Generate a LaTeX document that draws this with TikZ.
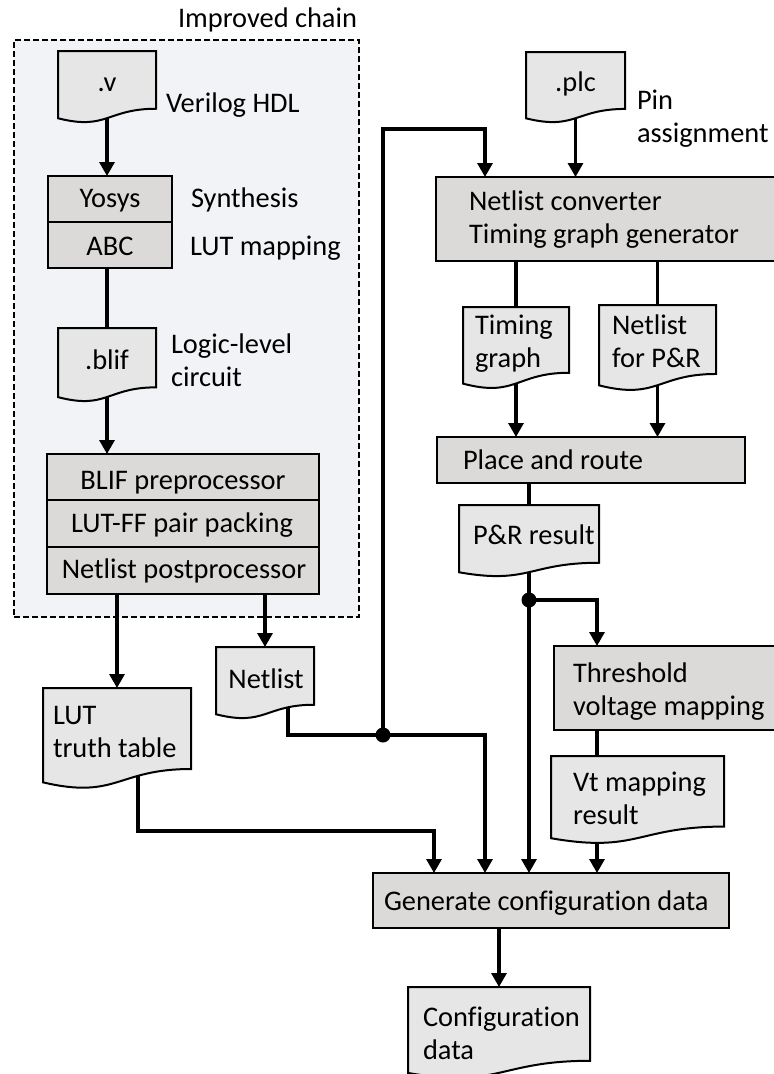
\documentclass[tikz,border=0pt]{standalone}
\usepackage{fontspec}
\setmainfont{Carlito}[Ligatures=NoCommon]
\usetikzlibrary{arrows.meta,calc}

\pgfdeclarelayer{frame}
\pgfdeclarelayer{background}
\pgfsetlayers{frame,background,main}

\definecolor{boxgray}{RGB}{219,218,217}
\definecolor{docgray}{RGB}{230,230,230}
\definecolor{chainbg}{RGB}{242,243,246}

% Flowchart "document" symbol: flat top, wavy bottom edge
\makeatletter
\pgfdeclareshape{document}{%
  \inheritsavedanchors[from=rectangle]%
  \inheritanchorborder[from=rectangle]%
  \inheritanchor[from=rectangle]{center}%
  \inheritanchor[from=rectangle]{north}%
  \inheritanchor[from=rectangle]{south}%
  \inheritanchor[from=rectangle]{east}%
  \inheritanchor[from=rectangle]{west}%
  \inheritanchor[from=rectangle]{north east}%
  \inheritanchor[from=rectangle]{north west}%
  \inheritanchor[from=rectangle]{south east}%
  \inheritanchor[from=rectangle]{south west}%
  \backgroundpath{%
    \southwest \edef\docxa{\the\pgf@x}\edef\docya{\the\pgf@y}%
    \northeast \edef\docxb{\the\pgf@x}\edef\docyb{\the\pgf@y}%
    \pgfmathsetmacro\doch{\docyb-\docya}%
    \pgfmathsetmacro\docxm{(\docxa+\docxb)/2}%
    \pgfmathsetmacro\docyr{\docyb-0.802*\doch}%
    \pgfmathsetmacro\docyc{\docyb-1.107*\doch}%
    \pgfmathsetmacro\docyl{\docyb-0.934*\doch}%
    \pgfpathmoveto{\pgfpoint{\docxa}{\docyb}}%
    \pgfpathlineto{\pgfpoint{\docxb}{\docyb}}%
    \pgfpathlineto{\pgfpoint{\docxb}{\docyr pt}}%
    \pgfpathcurveto{\pgfpoint{\docxm pt}{\docyr pt}}%
                   {\pgfpoint{\docxm pt}{\docyc pt}}%
                   {\pgfpoint{\docxa}{\docyl pt}}%
    \pgfpathclose
  }%
}
\makeatother

\tikzset{
  procbox/.style={draw=black, line width=2pt, fill=boxgray, inner sep=0pt, outer sep=0pt},
  docbox/.style={shape=document, draw=black, line width=2pt, fill=docgray, inner sep=0pt, outer sep=0pt},
  txt/.style={inner sep=0pt, outer sep=0pt, font=\fontsize{28.4}{33}\selectfont, align=left},
  wire/.style={line width=3.2pt},
  flow/.style={wire, -{Triangle[width=15pt,length=14pt]}},
  junction/.style={circle, fill=black, minimum size=15pt, inner sep=0pt},
  chainframe/.style={draw=black, line width=2pt, dash pattern=on 6pt off 3pt, fill=chainbg, inner sep=0pt, outer sep=0pt}
}

\begin{document}
\begin{tikzpicture}[x=1pt,y=-1pt]
\useasboundingbox (0,0) rectangle (774,1074);

% improved tool chain frame
\begin{pgfonlayer}{frame}
  \fill[white] (0,0) rectangle (774,1074);
  \node[chainframe, minimum width=345, minimum height=577] (chain) at (186.5,328.5) {};
\end{pgfonlayer}
\node[txt, anchor=base west] (chain-t) at (178,27) {Improved chain};

% left column: synthesis and packing
% (two-line labels are anchored at the baseline of their last line)
\node[docbox, minimum width=98, minimum height=72] (vfile) at (107,87) {};
\node[txt, anchor=base] (vfile-t) at (107,91) {.v};
\node[txt, anchor=base west] (verilog) at (166,112) {Verilog HDL};

\node[procbox, minimum width=124, minimum height=46] (yosys) at (110,199) {};
\node[procbox, minimum width=124, minimum height=46] (abc) at (110,245) {};
\node[txt, anchor=base] (yosys-t) at (110,207) {Yosys};
\node[txt, anchor=base] (abc-t) at (110,255) {ABC};
\node[txt, anchor=base west] (synth) at (191,207) {Synthesis};
\node[txt, anchor=base west] (lutmap) at (190,255) {LUT mapping};

\node[docbox, minimum width=98, minimum height=74] (blif) at (107,365) {};
\node[txt, anchor=base] (blif-t) at (107,369) {.blif};
\node[txt, anchor=base west] (logic) at (171,386) {Logic-level\\circuit};

\node[procbox, minimum width=272, minimum height=46] (blifpre) at (183,477) {};
\node[procbox, minimum width=272, minimum height=47] (lutff) at (183,523.5) {};
\node[procbox, minimum width=272, minimum height=47] (postproc) at (183,570.5) {};
\node[txt, anchor=base] (blifpre-t) at (183,489) {BLIF preprocessor};
\node[txt, anchor=base] (lutff-t) at (182,532) {LUT-FF pair packing};
\node[txt, anchor=base] (postproc-t) at (184,578) {Netlist postprocessor};

\node[docbox, minimum width=148, minimum height=101] (luttt) at (117,738.5) {};
\node[txt, anchor=base west] (luttt-t) at (53,757) {LUT\\truth table};

\node[docbox, minimum width=98, minimum height=72] (netlist) at (265,683) {};
\node[txt, anchor=base] (netlist-t) at (266,688) {Netlist};

% right column: place and route flow
\node[docbox, minimum width=99, minimum height=71] (plc) at (575.5,87.5) {};
\node[txt, anchor=base] (plc-t) at (575.5,91) {.plc};
\node[txt, anchor=base west] (pin) at (637,142) {Pin\\assignment};

\node[procbox, minimum width=354, minimum height=84] (conv) at (613,219) {};
\node[txt, anchor=base west] (conv-t) at (469,243) {Netlist converter\\Timing graph generator};

\node[docbox, minimum width=106, minimum height=82] (tgraph) at (516,348) {};
\node[txt, anchor=base west] (tgraph-t) at (475,367) {Timing\\graph};
\node[docbox, minimum width=117, minimum height=86] (nlpr) at (657.5,348) {};
\node[txt, anchor=base west] (nlpr-t) at (612,367) {Netlist\\for P\&R};

\node[procbox, minimum width=308, minimum height=46] (pnr) at (591,460) {};
\node[txt, anchor=base west] (pnr-t) at (463,469) {Place and route};

\node[docbox, minimum width=140, minimum height=72] (prres) at (529,541) {};
\node[txt, anchor=base west] (prres-t) at (473,544) {P\&R result};

\node[procbox, minimum width=236, minimum height=84] (thresh) at (672,688) {};
\node[txt, anchor=base west] (thresh-t) at (573,715) {Threshold\\voltage mapping};

\node[docbox, minimum width=173, minimum height=88] (vtres) at (637.5,800) {};
\node[txt, anchor=base west] (vtres-t) at (573,824) {Vt mapping\\result};

\node[procbox, minimum width=356, minimum height=55] (gen) at (551,900.5) {};
\node[txt, anchor=base west] (gen-t) at (384,910) {Generate configuration data};

\node[docbox, minimum width=182, minimum height=92] (config) at (499,1033) {};
\node[txt, anchor=base west] (config-t) at (423,1059) {Configuration\\data};

% routing points
\coordinate (j1) at (383,735);
\coordinate (j2) at (529,600);
\coordinate (convin) at (485,129);
\coordinate (vtcol) at (597,600);
\coordinate (lutbend) at (434,831);

% connectors
\begin{pgfonlayer}{background}
  \draw[flow] (vfile.center) -- (vfile.center |- yosys.north);
  \draw[wire] (blif.center |- abc.south) -- (blif.center);
  \draw[flow] (blif.center) -- (blif.center |- blifpre.north);
  \draw[flow] (luttt.north |- postproc.south) -- (luttt.north);
  \draw[flow] (netlist.north |- postproc.south) -- (netlist.north);
  \draw[wire] ($(netlist.center)+(23,0)$) |- (j1);
  \draw[flow] (j1) |- (convin) -- (convin |- conv.north);
  \draw[flow] (j1) -| (convin |- gen.north);
  \draw[flow] (plc.center) -- (plc.center |- conv.north);
  \draw[wire] (tgraph.north |- conv.south) -- (tgraph.north);
  \draw[wire] (nlpr.north |- conv.south) -- (nlpr.north);
  \draw[flow] (tgraph.center) -- (tgraph.center |- pnr.north);
  \draw[flow] (nlpr.center) -- (nlpr.center |- pnr.north);
  \draw[wire] (prres.north |- pnr.south) -- (prres.north);
  \draw[flow] (prres.center) -- (prres.center |- gen.north);
  \draw[flow] (j2) -- (vtcol) -- (vtcol |- thresh.north);
  \draw[wire] (vtcol |- thresh.south) -- (vtcol |- vtres.north);
  \draw[flow] (vtcol |- vtres.center) -- (vtcol |- gen.north);
  \draw[flow] ($(luttt.center)+(21,0)$) |- (lutbend) -- (lutbend |- gen.north);
  \draw[flow] (config.north |- gen.south) -- (config.north);
\end{pgfonlayer}

\node[junction] (j1dot) at (j1) {};
\node[junction] (j2dot) at (j2) {};
\end{tikzpicture}
\end{document}
